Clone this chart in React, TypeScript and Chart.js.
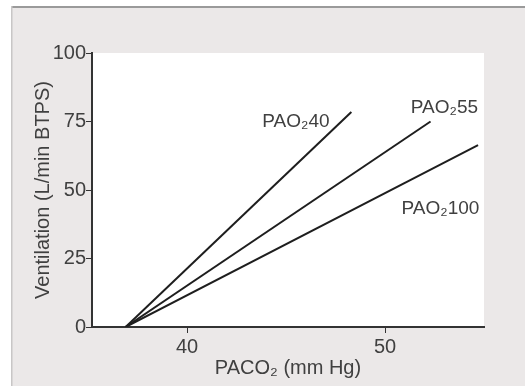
import React, { useEffect, useRef } from "react";
import { Chart, registerables } from "chart.js";

Chart.register(...registerables);

const seriesNames = ["PAO₂40", "PAO₂55", "PAO₂100"];
const paco2Start = [36.9, 36.9, 36.9];
const paco2End = [48.3, 52.3, 54.7];
const ventStart = [0, 0, 0];
const ventEnd = [78.5, 75, 66.4];
const labelX = [45.5, 53.0, 52.8];
const labelY = [75, 80, 43];
const yTicks = [0, 25, 50, 75, 100];
const xTicks = [40, 50];

const FONT = "'Liberation Sans', Arial, sans-serif";
const TEXT = "#404040";
const SIZE = 20;

const bgPlugin = {
  id: "bgPlugin",
  beforeDraw(chart: any) {
    const { ctx, width, height, chartArea } = chart;
    ctx.save();
    ctx.fillStyle = "#ffffff";
    ctx.fillRect(0, 0, width, height);
    ctx.fillStyle = "#ebe8e8";
    ctx.fillRect(11, 6, width - 11, height - 6);
    ctx.fillStyle = "#9a9a9a";
    ctx.fillRect(11, 6, width - 11, 2);
    ctx.fillStyle = "#c8c6c6";
    ctx.fillRect(11, 6, 1.5, height - 6);
    ctx.fillStyle = "#ffffff";
    ctx.fillRect(chartArea.left, chartArea.top, chartArea.right - chartArea.left, chartArea.bottom - chartArea.top);
    ctx.restore();
  },
};

const labelPlugin = {
  id: "labelPlugin",
  afterDatasetsDraw(chart: any) {
    const { ctx, scales } = chart;
    ctx.save();
    ctx.fillStyle = TEXT;
    ctx.font = `${SIZE - 1}px ${FONT}`;
    ctx.textAlign = "center";
    ctx.textBaseline = "middle";
    seriesNames.forEach((name, i) => {
      ctx.fillText(name, scales.x.getPixelForValue(labelX[i]), scales.y.getPixelForValue(labelY[i]));
    });
    ctx.restore();
  },
};

export default function App() {
  const ref = useRef<HTMLCanvasElement>(null);
  useEffect(() => {
    if (!ref.current) return;
    const datasets = seriesNames.map((name, i) => ({
      label: name,
      data: [
        { x: paco2Start[i], y: ventStart[i] },
        { x: paco2End[i], y: ventEnd[i] },
      ],
      borderColor: "#1e1e1e",
      borderWidth: 2,
      pointRadius: 0,
      fill: false,
      tension: 0,
    }));
    const chart = new Chart(ref.current, {
      type: "line",
      data: { datasets },
      plugins: [bgPlugin, labelPlugin],
      options: {
        animation: false,
        responsive: false,
        maintainAspectRatio: false,
        layout: { padding: { left: 0, right: 41, top: 53, bottom: 0 } },
        plugins: { legend: { display: false }, tooltip: { enabled: false } },
        scales: {
          x: {
            type: "linear",
            min: 35.2,
            max: 55,
            afterBuildTicks: (s: any) => {
              s.ticks = xTicks.map((v) => ({ value: v }));
            },
            afterFit: (s: any) => {
              s.height = 59;
            },
            grid: { drawOnChartArea: false, color: "#333", tickLength: 6, tickWidth: 1 },
            border: { color: "#333", width: 2 },
            ticks: { color: TEXT, font: { family: FONT, size: SIZE }, padding: 2 },
            title: {
              display: true,
              text: "PACO₂ (mm Hg)",
              color: TEXT,
              font: { family: FONT, size: SIZE },
              padding: { top: 6, bottom: 6 },
            },
          },
          y: {
            type: "linear",
            min: 0,
            max: 100,
            afterBuildTicks: (s: any) => {
              s.ticks = yTicks.map((v) => ({ value: v }));
            },
            afterFit: (s: any) => {
              s.width = 92;
            },
            grid: { drawOnChartArea: false, color: "#333", tickLength: 6, tickWidth: 1 },
            border: { color: "#333", width: 2 },
            ticks: { color: TEXT, font: { family: FONT, size: SIZE }, padding: 0 },
            title: {
              display: true,
              text: "Ventilation (L/min BTPS)",
              color: TEXT,
              font: { family: FONT, size: SIZE },
              padding: { top: 31, bottom: 31 },
            },
          },
        },
      },
    });
    return () => chart.destroy();
  }, []);
  return (
    <div style={{ position: "fixed", left: 0, top: 0, width: 525, height: 386 }}>
      <canvas ref={ref} width={525} height={386} style={{ width: 525, height: 386, display: "block" }} />
    </div>
  );
}
